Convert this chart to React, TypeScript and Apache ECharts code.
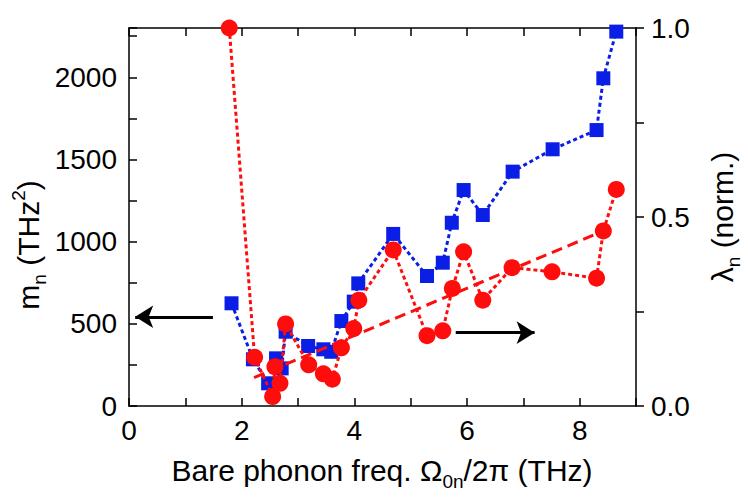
import React, { useEffect, useRef } from "react";
import * as echarts from "echarts";

// effective mass m_n (THz^2) vs bare phonon frequency (THz)
const massFreq = [1.82, 2.2, 2.47, 2.61, 2.71, 2.78, 3.18, 3.45, 3.59, 3.77, 3.99, 4.07, 4.69, 5.29, 5.57, 5.73, 5.94, 6.28, 6.81, 7.52, 8.3, 8.42, 8.65];
const massValues = [625, 284, 138, 290, 229, 452, 365, 345, 330, 517, 635, 746, 1047, 791, 872, 1115, 1314, 1162, 1426, 1562, 1679, 1994, 2278];

// normalised coupling lambda_n
const lambdaFreq = [1.78, 2.23, 2.55, 2.59, 2.68, 2.78, 3.19, 3.45, 3.61, 3.77, 3.99, 4.08, 4.69, 5.29, 5.57, 5.74, 5.94, 6.28, 6.8, 7.51, 8.3, 8.42, 8.65];
const lambdaValues = [1.0, 0.129, 0.025, 0.104, 0.06, 0.217, 0.109, 0.085, 0.071, 0.154, 0.205, 0.28, 0.413, 0.186, 0.199, 0.311, 0.408, 0.28, 0.366, 0.355, 0.338, 0.463, 0.573];

// linear trend of lambda_n
const fitFreq = [2.22, 8.42];
const fitValues = [0.075, 0.463];

// arrows pointing at the axis each series belongs to
const leftArrow = { from: [1.49, 543], to: [0.11, 543] };
const rightArrow = { from: [5.8, 0.194], to: [7.2, 0.194] };

const FONT = "Liberation Sans, Arial, sans-serif";
const BLUE = "#0a1ee6";
const RED = "#ff0c0c";

const zip = (xs: number[], ys: number[]) => xs.map((x, i) => [x, ys[i]]);

const axisLine = () => ({
  show: true,
  onZero: false,
  lineStyle: { color: "#000", width: 1.5, type: "solid" },
});
const tick = (inside: boolean) => ({
  show: true,
  inside,
  length: 8,
  lineStyle: { color: "#000", width: 1.5, type: "solid" },
});
const label = () => ({ color: "#000", fontSize: 28, fontFamily: FONT });

// rich styles for axis titles: normal, subscript, superscript
const titleRich = () => ({
  a: { fontSize: 30, fontFamily: FONT, fill: "#000" },
  s: { fontSize: 19, fontFamily: FONT, fill: "#000", padding: [22, 0, 0, 0] },
  p: { fontSize: 19, fontFamily: FONT, fill: "#000", padding: [0, 0, 20, 0] },
});

const App = () => {
  const chartRef = useRef<HTMLDivElement>(null);

  useEffect(() => {
    const chart = echarts.init(chartRef.current, null, { renderer: "svg" });

    const option = {
      animation: false,
      backgroundColor: "#fff",
      grid: { left: 129, right: 112, top: 28, bottom: 92 },
      xAxis: [
        {
          type: "value",
          min: 0,
          max: 9,
          interval: 1,
          axisLine: axisLine(),
          axisTick: tick(true),
          splitLine: { show: false },
          axisLabel: {
            ...label(),
            margin: 10,
            formatter: (v: number) => (v % 2 === 0 ? String(v) : ""),
          },
        },
        {
          type: "value",
          position: "top",
          min: 0,
          max: 9,
          interval: 1,
          axisLine: axisLine(),
          axisTick: tick(true),
          splitLine: { show: false },
          axisLabel: { show: false },
        },
      ],
      yAxis: [
        {
          type: "value",
          min: 0,
          max: 2300,
          interval: 250,
          axisLine: axisLine(),
          axisTick: tick(true),
          splitLine: { show: false },
          axisLabel: {
            ...label(),
            margin: 12,
            formatter: (v: number) => (v % 500 === 0 ? String(v) : ""),
          },
        },
        {
          type: "value",
          position: "right",
          min: 0,
          max: 1,
          interval: 0.25,
          axisLine: axisLine(),
          axisTick: tick(false),
          splitLine: { show: false },
          axisLabel: {
            ...label(),
            margin: 15,
            formatter: (v: number) => (Math.round(v * 4) % 2 === 0 ? v.toFixed(1) : ""),
          },
        },
      ],
      graphic: [
        {
          type: "text",
          x: 28,
          y: 245,
          rotation: Math.PI / 2,
          style: {
            text: "{a|m}{s|n}{a| (THz}{p|2}{a|)}",
            align: "center",
            verticalAlign: "middle",
            rich: titleRich(),
          },
        },
        {
          type: "text",
          x: 722,
          y: 217,
          rotation: Math.PI / 2,
          style: {
            text: "{a|λ}{s|n}{a| (norm.)}",
            align: "center",
            verticalAlign: "middle",
            rich: titleRich(),
          },
        },
        {
          type: "text",
          x: 382,
          y: 470,
          style: {
            text: "{a|Bare phonon freq. Ω}{s|0n}{a|/2π (THz)}",
            align: "center",
            verticalAlign: "middle",
            rich: titleRich(),
          },
        },
      ],
      series: [
        {
          name: "m_n",
          type: "line",
          xAxisIndex: 0,
          yAxisIndex: 0,
          data: zip(massFreq, massValues),
          symbol: "rect",
          symbolSize: 14,
          itemStyle: { color: BLUE },
          lineStyle: { color: BLUE, width: 3, type: [4, 3] },
          z: 2,
          markLine: {
            silent: true,
            symbol: ["none", "arrow"],
            symbolSize: [17, 18],
            label: { show: false },
            lineStyle: { color: "#000", width: 3, type: "solid" },
            data: [[{ coord: leftArrow.from }, { coord: leftArrow.to }]],
          },
        },
        {
          name: "fit",
          type: "line",
          xAxisIndex: 0,
          yAxisIndex: 1,
          data: zip(fitFreq, fitValues),
          showSymbol: false,
          symbol: "none",
          lineStyle: { color: RED, width: 3, type: [11, 6] },
          z: 3,
        },
        {
          name: "lambda_n",
          type: "line",
          xAxisIndex: 0,
          yAxisIndex: 1,
          data: zip(lambdaFreq, lambdaValues),
          symbol: "circle",
          symbolSize: 17,
          itemStyle: { color: RED },
          lineStyle: { color: RED, width: 3, type: [4, 3] },
          z: 4,
          markLine: {
            silent: true,
            symbol: ["none", "arrow"],
            symbolSize: [17, 18],
            label: { show: false },
            lineStyle: { color: "#000", width: 3, type: "solid" },
            data: [[{ coord: rightArrow.from }, { coord: rightArrow.to }]],
          },
        },
      ],
    };

    chart.setOption(option);
    return () => chart.dispose();
  }, []);

  return (
    <div
      ref={chartRef}
      style={{ position: "fixed", left: 0, top: 0, width: 748, height: 498 }}
    />
  );
};

export default App;
